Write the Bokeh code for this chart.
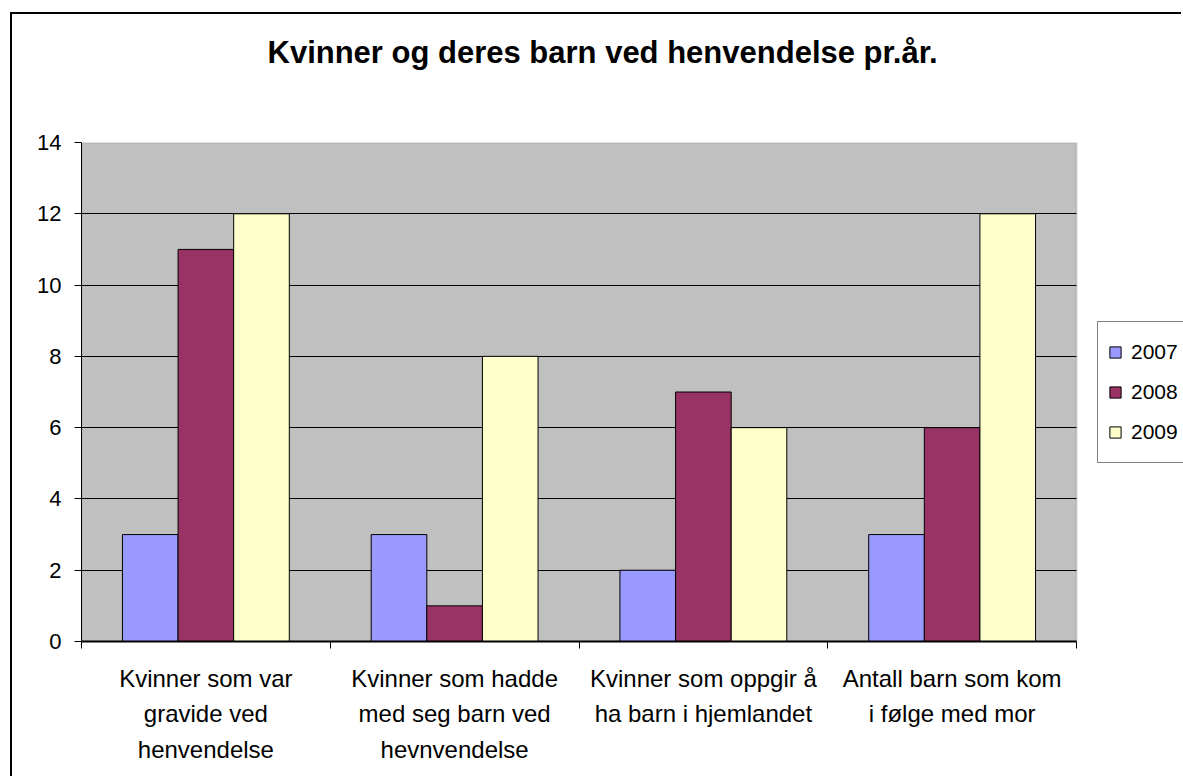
from bokeh.plotting import figure
from bokeh.models import (FixedTicker, Legend, LegendItem, ColumnDataSource,
                          Title, BoxAnnotation)
from bokeh.embed import file_html
from bokeh.resources import INLINE

categories = [
    "Kvinner som var\ngravide ved\nhenvendelse",
    "Kvinner som hadde\nmed seg barn ved\nhevnvendelse",
    "Kvinner som oppgir å\nha barn i hjemlandet",
    "Antall barn som kom\ni følge med mor",
]
years = ["2007", "2008", "2009"]
v2007 = [3, 3, 2, 3]
v2008 = [11, 1, 7, 6]
v2009 = [12, 8, 6, 12]
y_ticks = [0, 2, 4, 6, 8, 10, 12, 14]
colors = ["#9999FF", "#993366", "#FFFFCC"]
title_text = "Kvinner og deres barn ved henvendelse pr.år."

FONT = "Liberation Sans"
W, H = 1171, 764
FL, FT, FB = 69, 128, 627  # frame edges in canvas px
CAT_PX = 248.75            # width of one category in px
n = len(categories)
x_lo, x_hi = 0.5, n + 0.5
y_lo, y_hi = 0, 14
x_end = x_lo + (W - FL) / CAT_PX   # frame extends to the canvas edge (legend area)

p = figure(
    width=W, height=H,
    x_range=(x_lo, x_end), y_range=(y_lo, y_hi),
    output_backend="svg", toolbar_location=None,
    min_border_left=FL, min_border_top=FT,
    min_border_right=0, min_border_bottom=H - FB,
)
p.styles = {
    "margin-left": "10px", "margin-top": "12px",
    "border-left": "2px solid black", "border-top": "2px solid black",
}
p.background_fill_color = "white"
p.border_fill_color = "white"
p.outline_line_color = None

# gray plot area (drawn beneath the grid)
p.add_layout(BoxAnnotation(left=x_lo, right=x_hi, bottom=y_lo, top=y_hi,
                           fill_color="#C0C0C0", fill_alpha=1,
                           line_color="#808080", line_width=2, level="image"))

# spacer title (next to frame) then real title above it
p.add_layout(Title(text=" ", text_font_size="10px", standoff=55), "above")
p.add_layout(Title(text=title_text, text_font=FONT, text_font_size="31px",
                   text_font_style="bold", text_color="black", align="left",
                   offset=186, standoff=10), "above")

xs = list(range(1, n + 1))
bw = 0.2236
series = [v2007, v2008, v2009]
renderers = []
for j, (vals, col) in enumerate(zip(series, colors)):
    src = ColumnDataSource(dict(x=[x + (j - 1) * bw for x in xs], top=vals))
    r = p.vbar(x="x", top="top", width=bw, bottom=0, source=src,
               fill_color=col, line_color="black", line_width=1)
    renderers.append(r)

# x axis
xa = p.xaxis[0]
xa.bounds = (x_lo, x_hi)
xa.ticker = FixedTicker(ticks=xs, minor_ticks=[x - 0.5 for x in xs] + [n + 0.5])
xa.major_label_overrides = {x: c for x, c in zip(xs, categories)}
xa.major_tick_out = 0
xa.major_tick_in = 0
xa.minor_tick_out = 7
xa.minor_tick_in = 0
xa.minor_tick_line_color = "black"
xa.axis_line_color = "black"
xa.axis_line_width = 2
xa.major_label_text_font = FONT
xa.major_label_text_font_size = "24px"
xa.major_label_text_color = "black"
xa.major_label_text_line_height = 1.33
xa.major_label_standoff = 16

# y axis
ya = p.yaxis[0]
ya.ticker = FixedTicker(ticks=y_ticks, minor_ticks=[])
ya.major_tick_out = 7
ya.major_tick_in = 0
ya.major_tick_line_color = "black"
ya.axis_line_color = "black"
ya.major_label_text_font = FONT
ya.major_label_text_font_size = "22px"
ya.major_label_text_color = "black"
ya.major_label_standoff = 13

p.xgrid.grid_line_color = None
p.ygrid.grid_line_color = "black"
p.ygrid.grid_line_width = 1
p.ygrid.ticker = FixedTicker(ticks=y_ticks[:-1])
p.ygrid.cross_bounds = (x_lo, x_hi)

legend = Legend(
    items=[LegendItem(label=y, renderers=[r]) for y, r in zip(years, renderers)],
    location=(1016, 178),
    border_line_color="black", border_line_width=1,
    background_fill_color="white", background_fill_alpha=1,
    label_text_font=FONT, label_text_font_size="21px", label_text_color="black",
    glyph_width=14, glyph_height=14, label_standoff=9,
    label_height=40, spacing=0, padding=10, margin=0,
)
p.add_layout(legend, "center")

open("out.html", "w").write(file_html(p, INLINE))
